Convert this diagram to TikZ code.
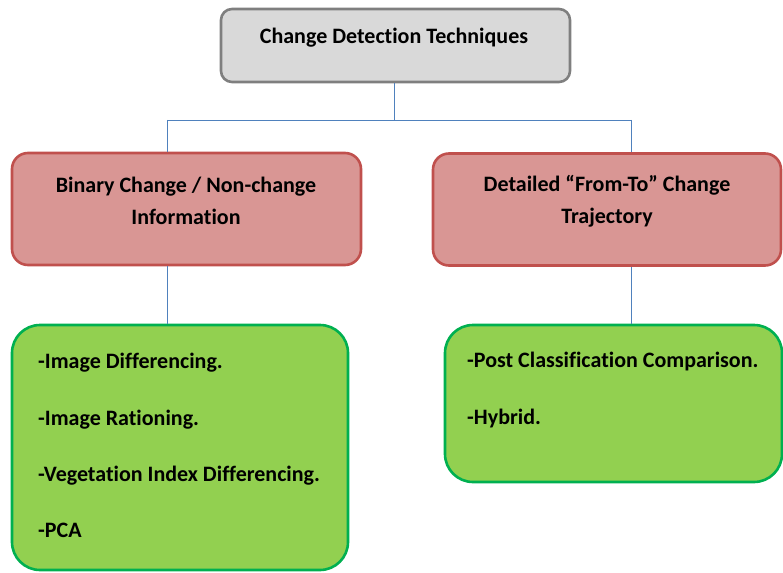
\documentclass[tikz,border=0pt]{standalone}
\usepackage{fontspec}
\setmainfont[Ligatures={NoCommon}]{Carlito}
\definecolor{grayfill}{HTML}{D9D9D9}
\definecolor{graydraw}{HTML}{7F7F7F}
\definecolor{redfill}{HTML}{D99694}
\definecolor{reddraw}{HTML}{C0504D}
\definecolor{greenfill}{HTML}{92D050}
\definecolor{greendraw}{HTML}{00B050}
\definecolor{linkblue}{HTML}{4F81BD}
\begin{document}
\begin{tikzpicture}[x=1pt,y=-1pt,
  boxbase/.style={rectangle, line width=2.6pt, inner sep=0pt},
  topbox/.style={boxbase, draw=graydraw, fill=grayfill, rounded corners=11pt},
  redbox/.style={boxbase, draw=reddraw, fill=redfill, rounded corners=16pt},
  greenbox/.style={boxbase, draw=greendraw, fill=greenfill, rounded corners=28pt},
  conn/.style={draw=linkblue, line width=0.9pt},
  lbl/.style={font=\fontsize{22}{32}\selectfont\bfseries, text=black, align=center, inner sep=0pt},
  item/.style={font=\fontsize{22}{26}\selectfont\bfseries, text=black, anchor=base west, inner sep=0pt}]
\useasboundingbox (0,0) rectangle (783,572);
\begin{scope}
\clip (0,0) rectangle (783,572);
% boxes
\node[topbox, minimum width=349pt, minimum height=73pt] (top) at (395.5,45.5) {};
\node[redbox, minimum width=349pt, minimum height=112pt] (lred) at (186.5,209) {};
\node[redbox, minimum width=348pt, minimum height=112pt] (rred) at (607,209.5) {};
\node[greenbox, minimum width=336pt, minimum height=245pt] (lgreen) at (180,447.5) {};
\node[greenbox, minimum width=337pt, minimum height=157pt] (rgreen) at (613.5,403.5) {};
% connectors
\coordinate (j) at (394,120);
\coordinate (lx) at (167,120);
\coordinate (rx) at (631,120);
\draw[conn] (top.south -| j) -- (j);
\draw[conn] (lx) -- (rx);
\draw[conn] (lx) -- (lred.north -| lx);
\draw[conn] (rx) -- (rred.north -| rx);
\draw[conn] (lred.south -| lx) -- (lgreen.north -| lx);
\draw[conn] (rred.south -| rx) -- (rgreen.north -| rx);
% texts
\node[lbl] (toptxt) at (394,38) {Change Detection Techniques};
\node[lbl] (lredtxt) at (186,201) {Binary Change / Non-change\\Information};
\node[lbl] (rredtxt) at (607,201) {Detailed “From-To” Change\\Trajectory};
\node[item] (l1) at (38,368) {-Image Differencing.};
\node[item] (l2) at (38,425) {-Image Rationing.};
\node[item] (l3) at (38,481) {-Vegetation Index Differencing.};
\node[item] (l4) at (38,537) {-PCA};
\node[item] (r1) at (467,367) {-Post Classification Comparison.};
\node[item] (r2) at (467,424) {-Hybrid.};
\end{scope}
\end{tikzpicture}
\end{document}
